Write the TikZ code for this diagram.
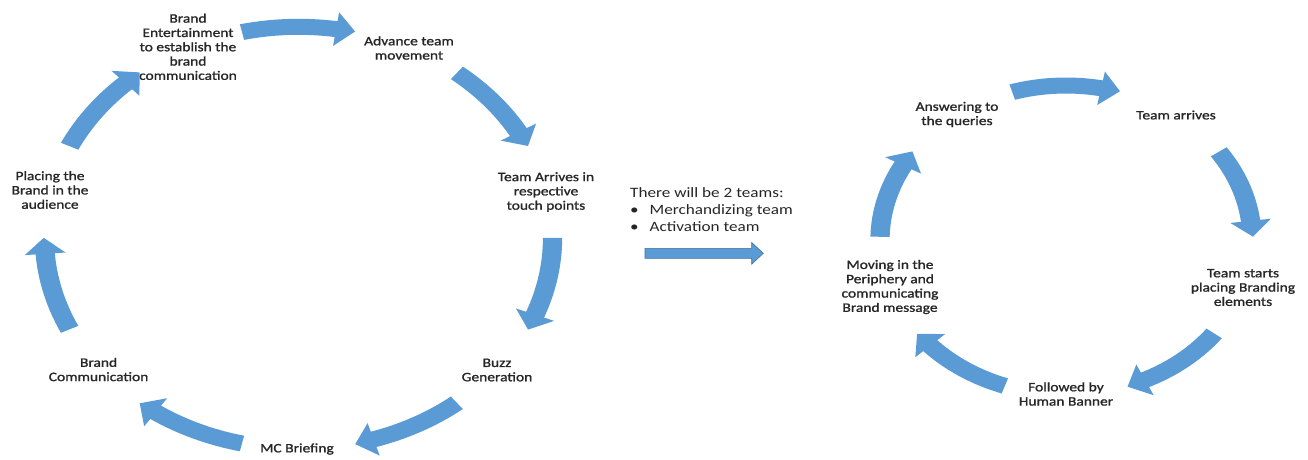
\documentclass[tikz,border=0pt]{standalone}
\usepackage{fontspec}
\setmainfont{Carlito}
\newfontfamily\lblfont[FakeStretch=1.2,FakeBold=1.2]{Carlito}
\newfontfamily\notefont[FakeStretch=1.2]{Carlito}
\usetikzlibrary{arrows.meta}
\definecolor{arrowblue}{HTML}{5B9BD5}
\definecolor{edgeblue}{HTML}{41719C}
\definecolor{txt}{HTML}{262626}
\def\hl{16}% head length
\def\hw{17}% half head width
\def\sw{8}% half shaft width
% block arc arrow on a circle of radius #1, clockwise from angle #2 to tip angle #3
% (drawn inside a scope whose origin is the circle centre, y up)
\newcommand\arcarrow[3]{%
  \pgfmathsetmacro\aC{#3+\hl/#1*57.2958}%
  \pgfmathsetmacro\aCs{\aC-0.6}%
  \pgfmathsetmacro\aTx{#1*cos(\aC)+\hl*sin(\aC)}%
  \pgfmathsetmacro\aTy{#1*sin(\aC)-\hl*cos(\aC)}%
  \fill[arrowblue] (#2:#1+\sw) arc[start angle=#2, end angle=\aCs, radius=#1+\sw]
    -- (\aCs:#1-\sw) arc[start angle=\aCs, end angle=#2, radius=#1-\sw] -- cycle;
  \fill[arrowblue] (\aC:#1+\hw) -- (\aTx,\aTy) -- (\aC:#1-\hw) -- cycle;}
\begin{document}
\begin{tikzpicture}[x=1pt,y=-1pt,
  lbl/.style={align=center, inner sep=0pt, text=txt, font=\lblfont\fontsize{12.9}{14.3}\selectfont},
  note/.style={anchor=base west, inner sep=0pt, text=txt, font=\notefont\fontsize{14.3}{16.7}\selectfont},
  cyc/.style={shift={#1}, xscale=1.204, yscale=-1},
]
\useasboundingbox (0,0) rectangle (1308,459);
\fill[white] (0,0) rectangle (1308,459);

% ---- left cycle labels
\node[lbl] (be) at (188,46.8) {Brand\\Entertainment\\to establish the\\brand\\communication};
\node[lbl] (at) at (409,48) {Advance team\\movement};
\node[lbl] (ta) at (546,192) {Team Arrives in\\respective\\touch points};
\node[lbl] (bg) at (497,370) {Buzz\\Generation};
\node[lbl] (mc) at (297,449) {MC Briefing};
\node[lbl] (bc) at (98.6,369.5) {Brand\\Communication};
\node[lbl] (pb) at (50,190) {Placing the\\Brand in the\\audience};

% ---- left cycle arrows (radius, tail angle, tip angle)
\begin{scope}[cyc={(298.5,237.8)}]
\arcarrow{211}{102.85}{77.15}
\arcarrow{211}{51.42}{25.72}
\arcarrow{211}{0}{-25.71}
\arcarrow{211}{-51.44}{-77.14}
\arcarrow{211}{-102.86}{-128.56}
\arcarrow{211}{-154.29}{-179.99}
\arcarrow{211}{154.28}{128.58}
\end{scope}

% ---- middle note and arrow
\node[note] (t1) at (630,197.5) {There will be 2 teams:};
\node[note] (t2) at (630,214.5) {\makebox[19.5pt][l]{\textbullet}Merchandizing team};
\node[note] (t3) at (630,231.2) {\makebox[19.5pt][l]{\textbullet}Activation team};
\fill[arrowblue, draw=edgeblue, line width=0.6pt]
  (645,248.3) -- (751.7,248.3) -- (751.7,242.5) -- (763.3,253.3)
  -- (751.7,264.1) -- (751.7,258.3) -- (645,258.3) -- cycle;

% ---- right cycle labels
\node[lbl] (aq) at (957,114.5) {Answering to\\the queries};
\node[lbl] (tr) at (1176,115) {Team arrives};
\node[lbl] (ts) at (1243,287.5) {Team starts\\placing Branding\\elements};
\node[lbl] (fh) at (1066,394) {Followed by\\Human Banner};
\node[lbl] (mp) at (890,287) {Moving in the\\Periphery and\\communicating\\Brand message};

% ---- right cycle arrows
\begin{scope}[cyc={(1066,240)}]
\arcarrow{154.5}{106.8}{73.2}
\arcarrow{154.5}{34.8}{1.2}
\arcarrow{154.5}{-37.2}{-70.8}
\arcarrow{154.5}{-109.2}{-142.8}
\arcarrow{154.5}{178.8}{145.2}
\end{scope}
\end{tikzpicture}
\end{document}
